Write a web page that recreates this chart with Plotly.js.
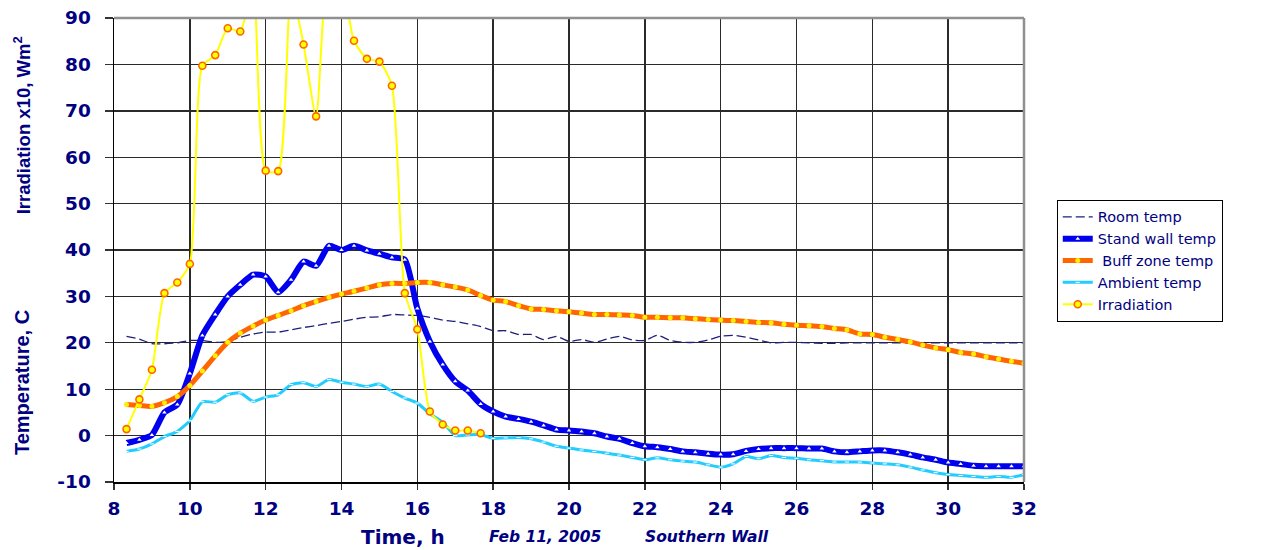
<!DOCTYPE html>
<html>
<head>
<meta charset="utf-8">
<script src="https://cdn.plot.ly/plotly-3.0.1.min.js"></script>
<style>
  html, body { margin: 0; padding: 0; background: #fff; }
  #chart { width: 1267px; height: 550px; }
</style>
</head>
<body>
<div id="chart"></div>
<script>
// Time of day, hours (20-minute readings)
var hours = [8.33, 8.67, 9.00, 9.33, 9.67, 10.00, 10.33, 10.67, 11.00, 11.33, 11.67, 12.00,
  12.33, 12.67, 13.00, 13.33, 13.67, 14.00, 14.33, 14.67, 15.00, 15.33, 15.67, 16.00,
  16.33, 16.67, 17.00, 17.33, 17.67, 18.00, 18.33, 18.67, 19.00, 19.33, 19.67, 20.00,
  20.33, 20.67, 21.00, 21.33, 21.67, 22.00, 22.33, 22.67, 23.00, 23.33, 23.67, 24.00,
  24.33, 24.67, 25.00, 25.33, 25.67, 26.00, 26.33, 26.67, 27.00, 27.33, 27.67, 28.00,
  28.33, 28.67, 29.00, 29.33, 29.67, 30.00, 30.33, 30.67, 31.00, 31.33, 31.67, 32.00];

var roomTemp = [21.4, 20.8, 19.8, 19.8, 20.0, 20.5, 20.5, 20.1, 20.3, 21.2, 21.9, 22.3,
  22.3, 22.8, 23.3, 23.7, 24.2, 24.6, 25.1, 25.5, 25.6, 26.1, 26.0, 25.9,
  25.5, 24.9, 24.6, 24.1, 23.5, 22.6, 22.6, 21.8, 21.8, 20.7, 21.4, 20.3,
  20.7, 20.1, 20.8, 21.4, 20.6, 20.5, 21.6, 20.5, 20.1, 20.1, 20.6, 21.4,
  21.6, 21.2, 20.6, 20.0, 20.1, 20.1, 20.0, 19.9, 19.9, 20.0, 20.0, 20.0,
  20.0, 20.0, 20.0, 20.0, 20.0, 20.0, 20.0, 20.0, 20.0, 20.0, 20.0, 20.0];

var standWallTemp = [-1.6, -0.9, 0.15, 5.0, 6.7, 13.4, 21.6, 26.1, 30.0, 32.5, 34.7, 34.3,
  30.9, 33.6, 37.5, 36.6, 40.9, 40.0, 40.9, 39.9, 39.2, 38.4, 37.9, 27.4,
  20.3, 15.3, 11.7, 9.7, 6.8, 5.2, 4.1, 3.6, 3.0, 2.2, 1.3, 1.1,
  0.9, 0.5, -0.2, -0.7, -1.6, -2.3, -2.5, -2.9, -3.4, -3.6, -3.9, -4.1,
  -4.0, -3.3, -2.9, -2.7, -2.7, -2.7, -2.8, -2.8, -3.4, -3.6, -3.4, -3.2,
  -3.2, -3.6, -4.1, -4.7, -5.2, -5.8, -6.1, -6.5, -6.6, -6.6, -6.6, -6.6];

var buffZoneTemp = [6.7, 6.5, 6.3, 7.1, 8.4, 10.8, 13.9, 17.2, 20.1, 22.1, 23.6, 24.9,
  25.9, 26.9, 28.0, 28.9, 29.8, 30.5, 31.1, 31.8, 32.5, 32.8, 32.8, 33.0,
  33.0, 32.5, 32.0, 31.4, 30.2, 29.2, 28.9, 28.0, 27.3, 27.2, 26.9, 26.7,
  26.4, 26.1, 26.1, 26.0, 25.9, 25.5, 25.5, 25.4, 25.4, 25.2, 25.0, 24.9,
  24.8, 24.6, 24.4, 24.3, 24.0, 23.8, 23.7, 23.5, 23.1, 22.8, 21.9, 21.8,
  21.2, 20.7, 20.2, 19.5, 18.9, 18.5, 17.9, 17.6, 17.0, 16.5, 16.0, 15.6];

var ambientTemp = [-3.4, -2.9, -1.8, -0.2, 0.9, 3.2, 7.3, 7.2, 8.8, 9.2, 7.4, 8.3,
  8.8, 11.0, 11.4, 10.6, 12.1, 11.5, 11.1, 10.6, 11.1, 9.5, 8.1, 7.0,
  4.7, 2.9, 0.0, 0.15, 0.2, -0.6, -0.5, -0.4, -0.7, -1.4, -2.3, -2.7,
  -3.1, -3.4, -3.8, -4.2, -4.7, -5.2, -4.8, -5.2, -5.5, -5.7, -6.3, -6.8,
  -6.1, -4.5, -5.0, -4.3, -4.7, -4.9, -5.2, -5.4, -5.7, -5.7, -5.7, -5.9,
  -6.1, -6.3, -6.8, -7.4, -8.0, -8.4, -8.6, -8.8, -9.0, -8.8, -9.0, -8.4];

// Irradiation x10, W/m2 (recorded until 17:40)
var irradiation = [1.4, 7.8, 14.2, 30.7, 33.0, 37.0, 79.7, 82.0, 87.8, 87.1, 97.0, 57.1,
  57.0, 96.0, 84.3, 68.8, 101.0, 98.0, 85.1, 81.2, 80.6, 75.4, 30.7, 22.9,
  5.2, 2.4, 1.1, 1.1, 0.5];

var seriesNames = ['Room temp', 'Stand wall temp', ' Buff zone temp', 'Ambient temp', 'Irradiation'];
var xTickVals = [8, 10, 12, 14, 16, 18, 20, 22, 24, 26, 28, 30, 32];
var yTickVals = [-10, 0, 10, 20, 30, 40, 50, 60, 70, 80, 90];

var NAVY = '#000080';
var FONT = 'Arial, "Liberation Sans", sans-serif';
var WIDE = '"DejaVu Sans", Verdana, sans-serif';

function bold(v) { return '<b>' + v + '</b>'; }

var traces = [
  {
    x: hours, y: roomTemp, name: seriesNames[0], type: 'scatter', mode: 'lines',
    line: { color: '#1f1f7a', width: 1.3, dash: '9px,4px', shape: 'spline', smoothing: 0.6 }
  },
  {
    x: hours, y: standWallTemp, name: seriesNames[1], type: 'scatter', mode: 'lines+markers',
    line: { color: '#0000ee', width: 6, shape: 'spline', smoothing: 0.6 },
    marker: { symbol: 'triangle-up', size: 4, color: '#ffffff', line: { width: 0 } }
  },
  {
    x: hours, y: buffZoneTemp, name: seriesNames[2], type: 'scatter', mode: 'lines+markers',
    line: { color: '#ff6600', width: 5, shape: 'spline', smoothing: 0.6 },
    marker: { symbol: 'circle', size: 5, color: '#ffee00', line: { width: 0 } }
  },
  {
    x: hours, y: ambientTemp, name: seriesNames[3], type: 'scatter', mode: 'lines+markers',
    line: { color: '#22ccff', width: 3, shape: 'spline', smoothing: 0.6 },
    marker: { symbol: 'line-ew', size: 3, color: '#ffffff', line: { width: 1, color: '#ffffff' } }
  },
  {
    x: hours.slice(0, irradiation.length), y: irradiation, name: seriesNames[4], type: 'scatter', mode: 'lines+markers',
    line: { color: '#ffff00', width: 2, shape: 'spline', smoothing: 0.6 },
    marker: { symbol: 'circle', size: 7, color: '#ffff00', line: { width: 1.6, color: '#ff6600' } }
  }
];

var layout = {
  width: 1267, height: 550,
  margin: { l: 114, r: 243, t: 18, b: 68, pad: 0 },
  paper_bgcolor: '#ffffff', plot_bgcolor: '#ffffff',
  font: { family: FONT, color: NAVY },
  showlegend: true,
  legend: {
    x: 1.036, y: 0.608, xanchor: 'left', yanchor: 'top',
    bgcolor: '#ffffff', bordercolor: '#000000', borderwidth: 1,
    font: { family: WIDE, size: 14.5, color: NAVY },
    tracegroupgap: 0, itemwidth: 30
  },
  xaxis: {
    range: [8, 32], tickmode: 'array', tickvals: xTickVals, ticktext: xTickVals.map(bold),
    showgrid: true, gridcolor: '#2a2a2a', gridwidth: 1.4,
    showline: true, linecolor: '#000000', linewidth: 1.5,
    ticks: 'outside', ticklen: 6, tickcolor: '#333333', tickwidth: 1.4,
    tickfont: { family: WIDE, size: 18.5, color: NAVY, weight: 'bold' },
    ticklabelstandoff: 3,
    zeroline: false, fixedrange: true
  },
  yaxis: {
    range: [-10, 90], tickmode: 'array', tickvals: yTickVals, ticktext: yTickVals.map(bold),
    showgrid: true, gridcolor: '#2a2a2a', gridwidth: 1.4,
    showline: true, linecolor: '#000000', linewidth: 1.5,
    ticks: 'outside', ticklen: 8, tickcolor: '#333333', tickwidth: 1.4,
    tickfont: { family: WIDE, size: 18.5, color: NAVY, weight: 'bold' },
    ticklabelstandoff: 10,
    zeroline: false, fixedrange: true
  },
  shapes: [
    { type: 'line', xref: 'paper', yref: 'paper', x0: 0, x1: 1, y0: 1, y1: 1,
      line: { color: '#909090', width: 2.5 } },
    { type: 'line', xref: 'paper', yref: 'paper', x0: 1, x1: 1, y0: 0, y1: 1,
      line: { color: '#909090', width: 2.5 } }
  ],
  annotations: [
    { xref: 'paper', yref: 'paper', x: 0.3176, y: -0.1185, xanchor: 'center', yanchor: 'middle',
      text: '<b>Time, h</b>', showarrow: false, font: { family: WIDE, size: 20, color: NAVY } },
    { xref: 'paper', yref: 'paper', x: 0.4736, y: -0.1185, xanchor: 'center', yanchor: 'middle',
      text: '<b><i>Feb 11, 2005</i></b>', showarrow: false, font: { family: WIDE, size: 15.5, color: NAVY } },
    { xref: 'paper', yref: 'paper', x: 0.6516, y: -0.1185, xanchor: 'center', yanchor: 'middle',
      text: '<b><i>Southern Wall</i></b>', showarrow: false, font: { family: WIDE, size: 15.5, color: NAVY } },
    { xref: 'paper', yref: 'paper', x: -0.101, y: 0.2134, xanchor: 'center', yanchor: 'middle',
      text: '<b>Temperature, C</b>', textangle: -90, showarrow: false,
      font: { family: FONT, size: 20, color: NAVY } },
    { xref: 'paper', yref: 'paper', x: -0.101, y: 0.769, xanchor: 'center', yanchor: 'middle',
      text: '<b>Irradiation x10, Wm<sup>2</sup></b>', textangle: -90, showarrow: false,
      font: { family: FONT, size: 18.5, color: NAVY } }
  ]
};

Plotly.newPlot('chart', traces, layout, { displayModeBar: false, staticPlot: true });
</script>
</body>
</html>
